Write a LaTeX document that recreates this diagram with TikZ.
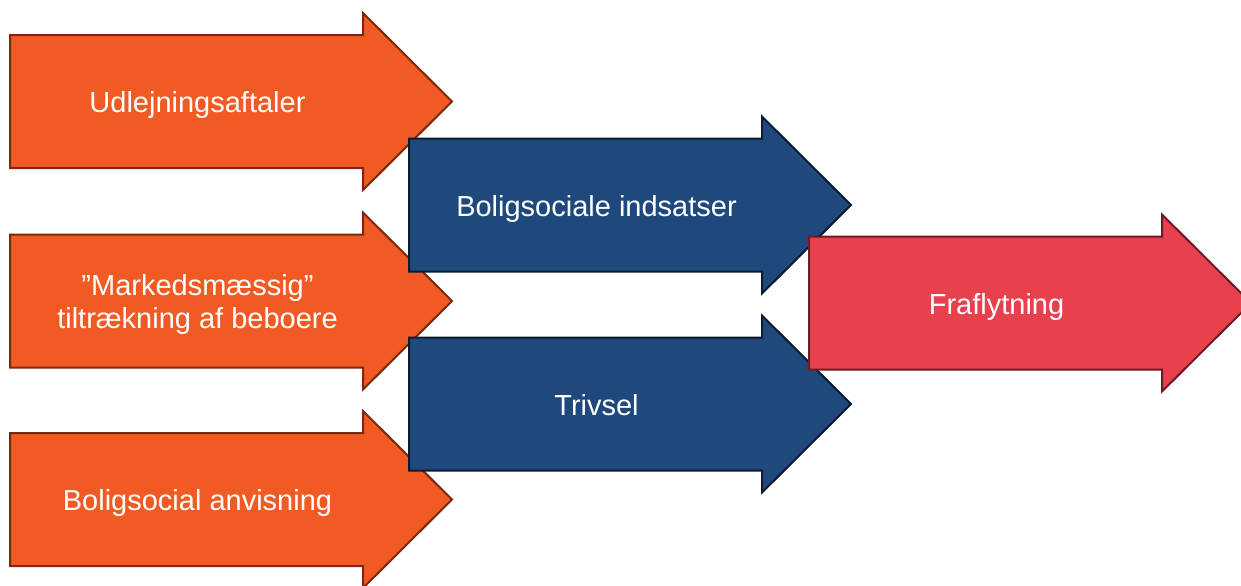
\documentclass[tikz,border=0pt]{standalone}
\usepackage{fontspec}
\setmainfont{Liberation Sans}
\usetikzlibrary{positioning,calc}

\definecolor{orangefill}{HTML}{F15A22}
\definecolor{orangeedge}{HTML}{7A2A0C}
\definecolor{bluefill}{HTML}{1F497D}
\definecolor{blueedge}{HTML}{0C1B30}
\definecolor{redfill}{HTML}{E8414E}
\definecolor{rededge}{HTML}{6E1A22}

% fat block arrow, #2 = middle of its tail
\newcommand{\fatarrow}[2]{%
  \draw[#1] ($(#2)+(0,-66.5)$) -- ++(353,0) -- ++(0,-22) -- ++(89,88.5)
    -- ++(-89,88.5) -- ++(0,-22) -- ++(-353,0) -- cycle;}

\begin{document}
\begin{tikzpicture}[x=0.5pt, y=-0.5pt,
    orangearrow/.style={fill=orangefill, draw=orangeedge, line width=1pt, line join=miter},
    bluearrow/.style={fill=bluefill, draw=blueedge, line width=1pt, line join=miter},
    redarrow/.style={fill=redfill, draw=rededge, line width=1pt, line join=miter},
    arrowtext/.style={text=white, font=\fontsize{14.5}{16.5}\selectfont, align=center, inner sep=0pt, anchor=base}]

        \useasboundingbox (0,0) rectangle (1241,585);

        % inputs
        \coordinate (tailUdl) at (10,101.5);
        \coordinate (tailMark) at (10,301);
        \coordinate (tailAnv) at (10,499.5);

        % middle
        \coordinate (tailInd) at (409,205);
        \coordinate (tailTriv) at (409,404);

        % result
        \coordinate (tailFra) at (809,303);

        \fatarrow{orangearrow}{tailUdl}
        \fatarrow{orangearrow}{tailMark}
        \fatarrow{orangearrow}{tailAnv}

        \node[arrowtext] (udl) at ($(tailUdl)+(187.5,11)$) {Udlejningsaftaler};
        \node[arrowtext] (mark) at ($(tailMark)+(187.5,27)$) {”Markedsmæssig”\\tiltrækning af beboere};
        \node[arrowtext] (anv) at ($(tailAnv)+(187.5,11)$) {Boligsocial anvisning};

        \fatarrow{bluearrow}{tailInd}
        \fatarrow{bluearrow}{tailTriv}

        \node[arrowtext] (ind) at ($(tailInd)+(187.5,11)$) {Boligsociale indsatser};
        \node[arrowtext] (triv) at ($(tailTriv)+(187.5,11)$) {Trivsel};

        \fatarrow{redarrow}{tailFra}
        \node[arrowtext] (fra) at ($(tailFra)+(187.5,11)$) {Fraflytning};

    \end{tikzpicture}
\end{document}
